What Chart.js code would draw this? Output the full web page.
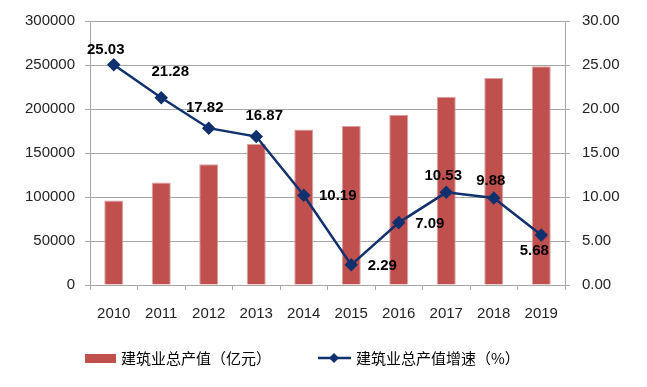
<!DOCTYPE html>
<html>
<head>
<meta charset="utf-8">
<script src="https://cdn.jsdelivr.net/npm/chart.js@4/dist/chart.umd.min.js"></script>
<style>
  html, body { margin: 0; padding: 0; background: #fff; }
  #wrap { width: 647px; height: 387px; position: relative; }
</style>
</head>
<body>
<div id="wrap"><canvas id="c"></canvas></div>
<script>
// 数据
const years = ['2010', '2011', '2012', '2013', '2014', '2015', '2016', '2017', '2018', '2019'];
const outputValue = [96031, 116463, 137218, 160366, 176713, 180757, 193567, 213954, 235086, 248446];
const growthRate = [25.03, 21.28, 17.82, 16.87, 10.19, 2.29, 7.09, 10.53, 9.88, 5.68];
const barLabel = '建筑业总产值（亿元）';
const lineLabel = '建筑业总产值增速（%）';

const barColor = '#C0504D';
const lineColor = '#10306E';
const gridColor = '#A6A6A6';
const tickFont = { family: '"Liberation Sans", Arial, sans-serif', size: 15 };

// 数据标签偏移（相对于点）
const labelOffsets = [
  [-8, -15], [9, -26], [-4, -20], [8, -21], [34, 1],
  [31, 1], [31, 1], [-3, -16], [-3, -17], [-7, 16]
];

const valueLabels = {
  id: 'valueLabels',
  afterDatasetsDraw(chart) {
    const ctx = chart.ctx;
    const meta = chart.getDatasetMeta(0);
    ctx.save();
    ctx.font = 'bold 15px "Liberation Sans", Arial, sans-serif';
    ctx.fillStyle = '#000';
    ctx.textAlign = 'center';
    ctx.textBaseline = 'middle';
    meta.data.forEach((pt, i) => {
      const off = labelOffsets[i];
      ctx.fillText(growthRate[i].toFixed(2), pt.x + off[0], pt.y + off[1]);
    });
    ctx.restore();
  }
};

// 自绘图例
const bottomLegend = {
  id: 'bottomLegend',
  afterDraw(chart) {
    const ctx = chart.ctx;
    const y = 358;
    ctx.save();
    ctx.fillStyle = barColor;
    ctx.fillRect(85, y - 4, 31, 9);
    ctx.strokeStyle = lineColor;
    ctx.lineWidth = 2.5;
    ctx.beginPath();
    ctx.moveTo(318, y);
    ctx.lineTo(351, y);
    ctx.stroke();
    ctx.fillStyle = lineColor;
    ctx.beginPath();
    ctx.moveTo(334, y - 5);
    ctx.lineTo(339, y);
    ctx.lineTo(334, y + 5);
    ctx.lineTo(329, y);
    ctx.closePath();
    ctx.fill();
    ctx.fillStyle = '#000';
    ctx.font = '15px "Noto Sans CJK SC", sans-serif';
    ctx.textAlign = 'left';
    ctx.textBaseline = 'middle';
    ctx.fillText(barLabel, 121, y);
    ctx.fillText(lineLabel, 356, y);
    ctx.restore();
  }
};

new Chart(document.getElementById('c'), {
  data: {
    labels: years,
    datasets: [
      {
        type: 'line',
        label: lineLabel,
        data: growthRate,
        yAxisID: 'y1',
        borderColor: lineColor,
        backgroundColor: lineColor,
        borderWidth: 2.5,
        pointStyle: 'rectRot',
        pointRadius: 5,
        pointHoverRadius: 5,
        tension: 0,
        order: 0
      },
      {
        type: 'bar',
        label: barLabel,
        data: outputValue,
        yAxisID: 'y',
        backgroundColor: barColor,
        borderColor: '#D9A3A2',
        borderWidth: 1,
        barPercentage: 0.4,
        categoryPercentage: 1,
        order: 1
      }
    ]
  },
  options: {
    responsive: true,
    maintainAspectRatio: false,
    animation: false,
    layout: { padding: { top: 21, bottom: 62, left: 0, right: 0 } },
    plugins: {
      legend: { display: false },
      tooltip: { enabled: false }
    },
    scales: {
      x: {
        offset: true,
        grid: { offset: true, drawOnChartArea: false, drawTicks: true, tickLength: 5, color: gridColor },
        border: { color: gridColor },
        ticks: { font: tickFont, color: '#222', padding: 15, maxRotation: 0 },
        afterFit(s) { s.height = 40; }
      },
      y: {
        position: 'left',
        min: 0, max: 300000,
        grid: { color: gridColor, tickLength: 5 },
        border: { color: gridColor },
        ticks: { stepSize: 50000, font: tickFont, color: '#222', padding: 10, callback: v => String(v) },
        afterFit(s) { s.width = 90; }
      },
      y1: {
        position: 'right',
        min: 0, max: 30,
        grid: { drawOnChartArea: false, color: gridColor, tickLength: 5 },
        border: { color: gridColor },
        ticks: { stepSize: 5, font: tickFont, color: '#222', padding: 12, callback: v => v.toFixed(2) },
        afterFit(s) { s.width = 82; }
      }
    }
  },
  plugins: [valueLabels, bottomLegend]
});
</script>
</body>
</html>
